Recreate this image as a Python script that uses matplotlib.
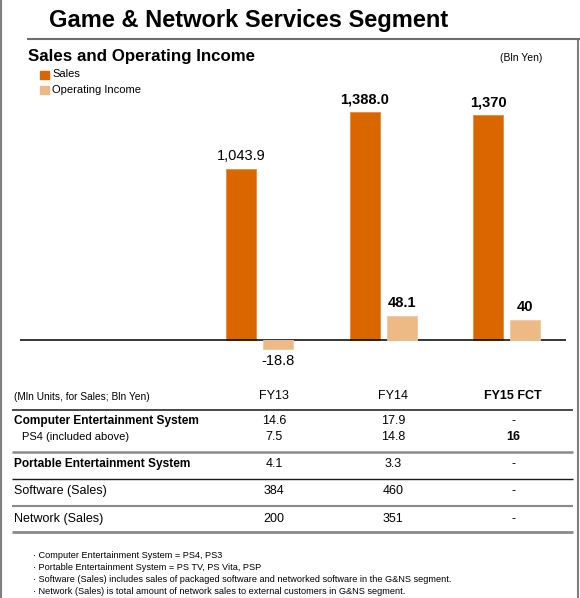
import matplotlib
matplotlib.use("Agg")
import matplotlib.pyplot as plt
from matplotlib.lines import Line2D
from matplotlib.patches import Rectangle

plt.rcParams['font.family'] = ['Liberation Sans', 'DejaVu Sans']

# ---- data ----
years = ["FY13", "FY14", "FY15 FCT"]
sales = [1043.9, 1388.0, 1370]
sales_labels = ["1,043.9", "1,388.0", "1,370"]
op_income = [-18.8, 48.1, 40]
op_labels = ["-18.8", "48.1", "40"]
label_bold = [False, True, True]

row_labels = ["Computer Entertainment System", "PS4 (included above)",
              "Portable Entertainment System", "Software (Sales)", "Network (Sales)"]
row_bold = [True, False, True, False, False]
col_fy13 = ["14.6", "7.5", "4.1", "384", "200"]
col_fy14 = ["17.9", "14.8", "3.3", "460", "351"]
col_fy15 = ["-", "16", "-", "-", "-"]
col_fy15_bold = [False, True, False, False, False]

footnotes = [
    "\u00b7 Computer Entertainment System = PS4, PS3",
    "\u00b7 Portable Entertainment System = PS TV, PS Vita, PSP",
    "\u00b7 Software (Sales) includes sales of packaged software and networked software in the G&NS segment.",
    "\u00b7 Network (Sales) is total amount of network sales to external customers in G&NS segment.",
]

SALES_C = "#DA6600"
OI_C = "#EDB985"

W, H = 580, 598
fig = plt.figure(figsize=(W / 100, H / 100), dpi=100)


def fx(x):
    return x / W


def fy(y):
    return 1 - y / H


def ftext(x, y, s, **kw):
    fig.text(fx(x), fy(y), s, **kw)


def hline(x0, x1, y, color, lw):
    fig.add_artist(Line2D([fx(x0), fx(x1)], [fy(y), fy(y)], color=color, lw=lw,
                          transform=fig.transFigure, solid_capstyle='butt'))


def vline(x, y0, y1, color, lw):
    fig.add_artist(Line2D([fx(x), fx(x)], [fy(y0), fy(y1)], color=color, lw=lw,
                          transform=fig.transFigure, solid_capstyle='butt'))


# borders and title
vline(1, 0, 598, "#7f7f7f", 1.5)
vline(577.5, 38, 598, "#7f7f7f", 1.5)
hline(27, 580, 38.5, "#6e6e6e", 1.5)
ftext(49, 21, "Game & Network Services Segment", fontsize=17, fontweight='bold',
      va='center', ha='left')
ftext(28, 57, "Sales and Operating Income", fontsize=12.2, fontweight='bold',
      va='center', ha='left')
ftext(542, 58, "(Bln Yen)", fontsize=7.5, va='center', ha='right')

# legend
fig.add_artist(Rectangle((fx(40), fy(78.5)), 9 / W, 8 / H, color=SALES_C,
                         transform=fig.transFigure))
ftext(52, 74, "Sales", fontsize=8, va='center')
fig.add_artist(Rectangle((fx(40), fy(94.5)), 9 / W, 8 / H, color=OI_C,
                         transform=fig.transFigure))
ftext(52, 89.5, "Operating Income", fontsize=8, va='center')

# ---- bar chart ----
top_px, bot_px = 100, 380
left_px, right_px = 20, 566
zero_px = 339.5
sales_scale = 0.1636  # px per unit
oi_scale = 0.48
ax = fig.add_axes([fx(left_px), fy(bot_px), (right_px - left_px) / W, (bot_px - top_px) / H])
ax2 = ax.twinx()
group_px = 123.5
x0_px = 259.5
xl = -(x0_px - left_px) / group_px
xr = xl + (right_px - left_px) / group_px
for a in (ax, ax2):
    a.set_xlim(xl, xr)
    a.axis('off')
ax.set_ylim(-(bot_px - zero_px) / sales_scale, (zero_px - top_px) / sales_scale)
ax2.set_ylim(-(bot_px - zero_px) / oi_scale, (zero_px - top_px) / oi_scale)

pos = list(range(len(years)))
off = 18.5 / group_px
bw = 30 / group_px
ax.bar([p - off for p in pos], sales, width=bw, color=SALES_C, edgecolor='#E88A3A', lw=0.6)
ax2.bar([p + off for p in pos], op_income, width=bw, color=OI_C, edgecolor='#F2C9A0', lw=0.6)
ax.axhline(0, color='black', lw=1.1)

for p, v, s, b in zip(pos, sales, sales_labels, label_bold):
    ax.annotate(s, (p - off, v), xytext=(0, 9.5), textcoords='offset points',
                ha='center', va='center', fontsize=10.5,
                fontweight='bold' if b else 'normal')
for p, v, s, b in zip(pos, op_income, op_labels, label_bold):
    dy = 9.5 if v >= 0 else -9
    ax2.annotate(s, (p + off, v), xytext=(0, dy), textcoords='offset points',
                 ha='center', va='center', fontsize=10.5,
                 fontweight='bold' if b else 'normal')

# ---- table ----
col_x = [274, 393, 513]
ftext(14, 397, "(Mln Units, for Sales; Bln Yen)", fontsize=7.3, va='center')
for cx, yname in zip(col_x, years):
    ftext(cx, 396, yname, fontsize=9, va='center', ha='center',
          fontweight='bold' if yname.endswith("FCT") else 'normal')

row_y = [421, 437, 464, 491, 519]
row_x = [14, 22, 14, 14, 14]
row_fs = [8.6, 8, 8.6, 9, 9]
for y, x, lab, b, fs in zip(row_y, row_x, row_labels, row_bold, row_fs):
    ftext(x, y, lab, fontsize=fs, va='center', fontweight='bold' if b else 'normal')
for y, a, b_, c, cb in zip(row_y, col_fy13, col_fy14, col_fy15, col_fy15_bold):
    ftext(col_x[0], y, a, fontsize=9, va='center', ha='center')
    ftext(col_x[1], y, b_, fontsize=9, va='center', ha='center')
    ftext(col_x[2], y, c, fontsize=9, va='center', ha='center',
          fontweight='bold' if cb else 'normal')

hline(12, 573, 409.5, "#3a3a3a", 1.3)
hline(12, 573, 452, "#8a8a8a", 1.8)
hline(12, 573, 478.5, "#1a1a1a", 1.0)
hline(12, 573, 505.5, "#8a8a8a", 1.5)
hline(12, 573, 532, "#8a8a8a", 2.0)

# footnotes
for i, t in enumerate(footnotes):
    ftext(33, 555 + 12 * i, t, fontsize=6.6, va='center')

fig.savefig("out.png", dpi=100)
